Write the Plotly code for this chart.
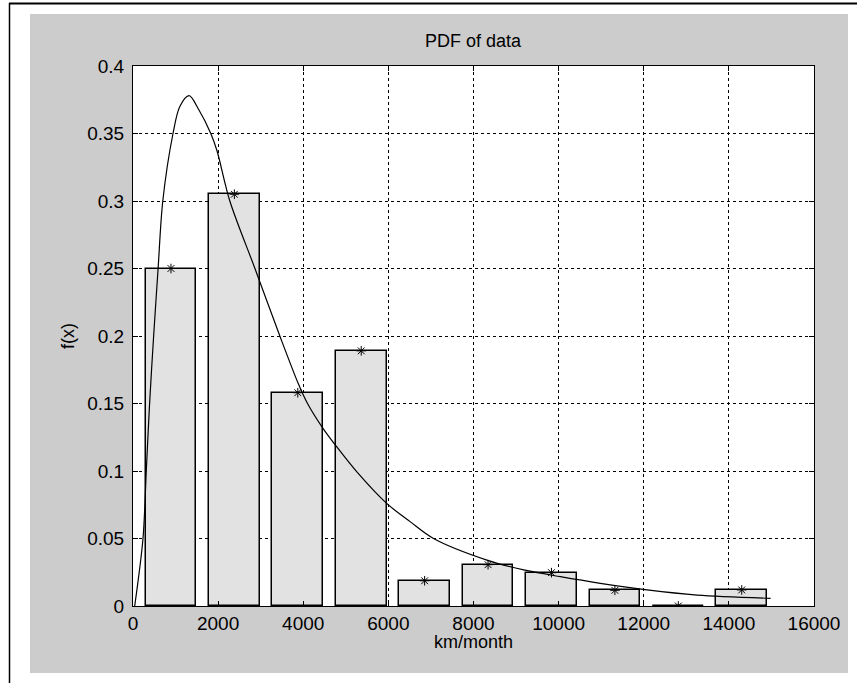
import plotly.graph_objects as go

# ---- data ----
bin_centers = [892, 2382, 3872, 5362, 6852, 8342, 9832, 11322, 12812, 14302]
pdf_heights = [0.250, 0.305, 0.158, 0.189, 0.0187, 0.0306, 0.0247, 0.0116, 0.0, 0.0119]
bar_width = 1192

curve_x = [40, 235, 312, 390, 485, 590, 700, 940, 1100, 1318, 1540, 1828, 1975,
           2275, 2865, 3450, 3880, 4100, 4455, 4785, 5255, 5960, 6510, 7060, 8315,
           9180, 10040, 10980, 12080, 13255, 14980]
curve_y = [0.0, 0.05, 0.1, 0.15, 0.2, 0.25, 0.3, 0.35, 0.37, 0.378, 0.368, 0.35, 0.337,
           0.3, 0.25, 0.2, 0.165, 0.15, 0.132, 0.118, 0.0995, 0.076, 0.0625, 0.05,
           0.034, 0.0267, 0.0217, 0.0168, 0.0119, 0.0081, 0.0057]

x_tick_vals = [0, 2000, 4000, 6000, 8000, 10000, 12000, 14000, 16000]
x_tick_text = ["0", "2000", "4000", "6000", "8000", "10000", "12000", "14000", "16000"]
y_tick_vals = [0, 0.05, 0.1, 0.15, 0.2, 0.25, 0.3, 0.35, 0.4]
y_tick_text = ["0", "0.05", "0.1", "0.15", "0.2", "0.25", "0.3", "0.35", "0.4"]

title_text = "PDF of data"
x_label = "km/month"
y_label = "f(x)"

FONT = "Liberation Sans, Arial, sans-serif"

fig = go.Figure()
fig.add_trace(go.Bar(
    x=bin_centers, y=pdf_heights, width=bar_width,
    marker=dict(color="#e2e2e2", line=dict(color="black", width=1.5)),
    showlegend=False, hoverinfo="skip",
))
fig.add_trace(go.Scatter(
    x=bin_centers, y=pdf_heights, mode="markers",
    marker=dict(symbol="asterisk-open", size=8, color="black",
                line=dict(color="black", width=1)),
    showlegend=False, hoverinfo="skip",
))
fig.add_trace(go.Scatter(
    x=curve_x, y=curve_y, mode="lines",
    line=dict(color="black", width=1.2, shape="spline", smoothing=0.9),
    showlegend=False, hoverinfo="skip",
))

L, R, T, B = 133, 43, 66, 77
W, H = 857, 683
pw = W - L - R
ph = H - T - B

def px2x(px):
    return (px - L) / pw

def py2y(py):
    return (H - B - py) / ph

shapes = [
    # gray figure background
    dict(type="rect", xref="paper", yref="paper", layer="below",
         x0=px2x(30), x1=px2x(848), y0=py2y(673), y1=py2y(14),
         fillcolor="#cccccc", line=dict(width=0)),
    # white axes background
    dict(type="rect", xref="paper", yref="paper", layer="below",
         x0=0, x1=1, y0=0, y1=1, fillcolor="white", line=dict(width=0)),
    # outer frame lines (top and left)
    dict(type="line", xref="paper", yref="paper", layer="above",
         x0=px2x(9), x1=px2x(860), y0=py2y(3.5), y1=py2y(3.5),
         line=dict(color="black", width=2)),
    dict(type="line", xref="paper", yref="paper", layer="above",
         x0=px2x(9.5), x1=px2x(9.5), y0=py2y(3), y1=py2y(690),
         line=dict(color="black", width=1.5)),
]

annotations = [
    dict(text=title_text, xref="paper", yref="paper", x=0.5, y=py2y(41),
         xanchor="center", yanchor="middle", showarrow=False,
         font=dict(family=FONT, size=18, color="black")),
    dict(text=x_label, xref="paper", yref="paper", x=0.5, y=py2y(642),
         xanchor="center", yanchor="middle", showarrow=False,
         font=dict(family=FONT, size=18, color="black")),
    dict(text=y_label, xref="paper", yref="paper", x=px2x(68), y=0.5,
         xanchor="center", yanchor="middle", showarrow=False, textangle=-90,
         font=dict(family=FONT, size=18, color="black")),
]

axis_common = dict(
    showgrid=True, gridcolor="black", griddash="dot", gridwidth=1,
    showline=True, linecolor="black", linewidth=1, mirror="allticks",
    ticks="inside", ticklen=5, tickcolor="black", tickwidth=1,
    zeroline=False, tickfont=dict(family=FONT, size=19, color="black"),
    fixedrange=True,
)

fig.update_layout(
    width=W, height=H,
    margin=dict(l=L, r=R, t=T, b=B, pad=0),
    paper_bgcolor="white", plot_bgcolor="white",
    shapes=shapes, annotations=annotations,
    bargap=0, showlegend=False,
    xaxis=dict(range=[0, 16000], tickmode="array", tickvals=x_tick_vals,
               ticktext=x_tick_text, **axis_common),
    yaxis=dict(range=[0, 0.4], tickmode="array", tickvals=y_tick_vals,
               ticktext=y_tick_text, ticklabelstandoff=4, **axis_common),
)

fig.write_html(
    "out.html",
    config={"displayModeBar": False},
    post_script="document.body.style.margin='0';document.body.style.overflow='hidden';",
)
